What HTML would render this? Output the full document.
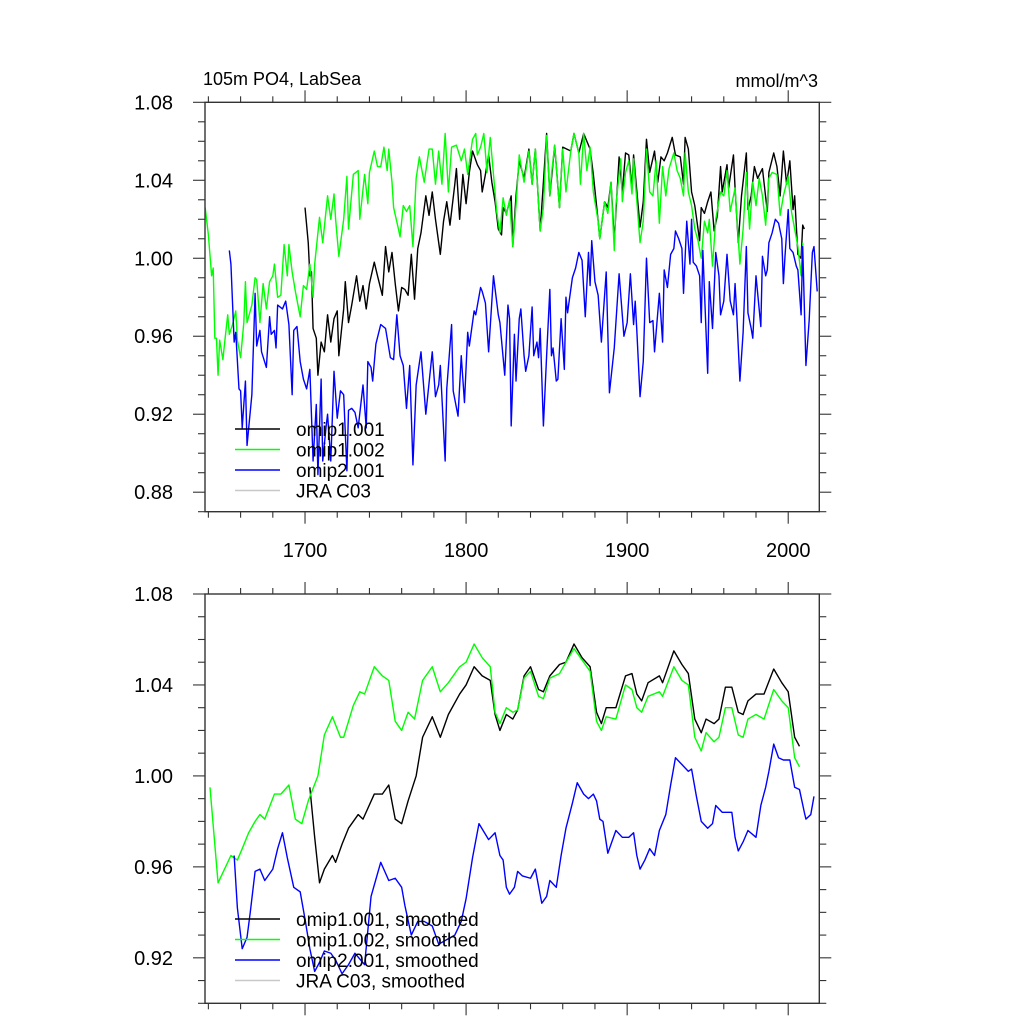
<!DOCTYPE html>
<html><head><meta charset="utf-8"><style>
html,body{margin:0;padding:0;background:#fff;}
svg{display:block;font-family:"Liberation Sans",Arial,sans-serif;}
</style></head><body>
<svg id="chart" width="1024" height="1024" viewBox="0 0 1024 1024" xmlns="http://www.w3.org/2000/svg">
<text x="203" y="85" font-size="18">105m PO4, LabSea</text>
<text x="818" y="87" font-size="18" text-anchor="end">mmol/m^3</text>
</svg>
<script>
// ---- data ----
const xTickLabels = ["1700","1800","1900","2000"];
const xTickYears = [1700,1800,1900,2000];
const yTopTicks = [0.88,0.92,0.96,1.00,1.04,1.08];
const yTopLabels = ["0.88","0.92","0.96","1.00","1.04","1.08"];
const yBotTicks = [0.92,0.96,1.00,1.04,1.08];
const yBotLabels = ["0.92","0.96","1.00","1.04","1.08"];
const legendTop = ["omip1.001","omip1.002","omip2.001","JRA C03"];
const legendBot = ["omip1.001, smoothed","omip1.002, smoothed","omip2.001, smoothed","JRA C03, smoothed"];

const g1Years = [1638,1640,1642,1643,1644,1645,1646,1647,1649,1650,1652,1653,1655,1657,1658,1660,1662,1663,1664,1667,1669,1670,1672,1674,1676,1678,1680,1681,1683,1685,1687,1689,1690,1692,1694,1697,1699,1701,1703,1705,1706,1709,1711,1714,1716,1718,1719,1721,1724,1726,1727,1730,1733,1734,1737,1739,1740,1743,1745,1747,1749,1751,1752,1754,1755,1758,1759,1761,1763,1765,1767,1769,1771,1774,1777,1779,1781,1783,1785,1787,1789,1791,1794,1797,1799,1801,1804,1806,1807,1809,1811,1813,1815,1817,1819,1821,1823,1825,1827,1829,1831,1833,1836,1839,1841,1843,1846,1848,1850,1852,1853,1855,1858,1860,1862,1865,1867,1870,1871,1873,1875,1877,1879,1882,1883,1886,1888,1890,1892,1893,1896,1897,1899,1901,1903,1904,1908,1910,1912,1914,1916,1918,1920,1922,1924,1926,1929,1931,1933,1935,1936,1938,1940,1942,1944,1946,1948,1950,1951,1953,1955,1958,1960,1962,1964,1967,1970,1972,1974,1976,1978,1980,1982,1984,1986,1988,1990,1993,1995,1997,2000,2002,2004,2006,2008,2009];
const g1Vals = [1.026,1.012,0.991,0.995,0.959,0.959,0.940,0.958,0.948,0.956,0.971,0.961,0.966,0.973,0.958,0.949,0.967,0.988,0.967,0.976,0.990,0.989,0.967,0.987,0.974,0.988,0.991,0.997,0.980,0.981,1.007,0.991,1.007,0.993,0.983,0.970,0.986,0.984,0.997,0.980,0.997,1.021,1.008,1.032,1.020,1.033,1.020,1.001,1.020,1.042,1.015,1.043,1.045,1.020,1.043,1.028,1.044,1.055,1.047,1.047,1.057,1.045,1.056,1.039,1.026,1.015,1.011,1.027,1.024,1.027,1.006,1.041,1.052,1.039,1.056,1.056,1.038,1.055,1.038,1.064,1.034,1.057,1.058,1.050,1.056,1.043,1.061,1.064,1.053,1.057,1.064,1.044,1.062,1.043,1.024,1.013,1.031,1.022,1.030,1.006,1.027,1.053,1.039,1.055,1.038,1.056,1.014,1.026,1.063,1.032,1.043,1.058,1.026,1.056,1.034,1.055,1.064,1.054,1.038,1.064,1.045,1.057,1.034,1.019,1.010,1.029,1.023,1.039,1.004,1.027,1.051,1.029,1.044,1.050,1.033,1.051,1.008,1.019,1.056,1.034,1.032,1.050,1.018,1.047,1.032,1.046,1.054,1.045,1.041,1.032,1.054,1.034,1.027,1.015,1.009,1.000,1.019,1.013,1.020,0.996,1.020,1.034,1.032,1.045,1.024,1.036,0.997,1.015,1.044,1.015,1.039,1.027,1.041,1.032,1.017,1.041,1.044,1.043,1.022,1.032,1.042,1.024,1.015,1.006,0.991,1.008];

const k1Years = [1700,1702,1703,1704,1705,1707,1708,1710,1712,1714,1716,1718,1720,1721,1724,1725,1727,1729,1732,1734,1736,1738,1740,1743,1745,1748,1750,1752,1754,1756,1758,1760,1762,1764,1766,1768,1770,1772,1775,1777,1779,1781,1784,1786,1788,1790,1793,1794,1796,1798,1800,1802,1804,1807,1809,1810,1812,1814,1816,1818,1820,1822,1823,1825,1828,1829,1831,1833,1836,1839,1841,1843,1846,1850,1852,1855,1858,1860,1865,1867,1870,1873,1877,1879,1882,1883,1886,1888,1890,1892,1895,1897,1899,1901,1903,1904,1908,1910,1912,1914,1917,1919,1921,1923,1925,1928,1930,1933,1935,1936,1938,1940,1942,1945,1946,1948,1950,1952,1954,1956,1958,1959,1962,1963,1966,1967,1969,1971,1974,1975,1977,1979,1981,1984,1987,1988,1991,1993,1995,1997,1999,2001,2003,2004,2006,2008,2009,2010];
const k1Vals = [1.026,1.008,0.991,0.993,0.964,0.959,0.940,0.957,0.952,0.971,0.957,0.969,0.973,0.950,0.974,0.988,0.967,0.976,0.991,0.978,0.986,0.974,0.987,0.998,0.991,0.981,1.006,0.993,1.003,0.987,0.973,0.985,0.984,0.981,1.002,0.979,1.005,1.013,1.032,1.022,1.034,1.020,1.002,1.019,1.029,1.017,1.038,1.046,1.020,1.043,1.028,1.044,1.055,1.048,1.045,1.034,1.043,1.053,1.039,1.029,1.015,1.012,1.026,1.023,1.032,1.006,1.032,1.050,1.041,1.056,1.038,1.056,1.014,1.064,1.032,1.058,1.026,1.057,1.055,1.064,1.054,1.064,1.056,1.043,1.019,1.010,1.029,1.026,1.039,1.009,1.052,1.034,1.054,1.053,1.036,1.053,1.016,1.029,1.061,1.044,1.055,1.039,1.052,1.050,1.054,1.062,1.053,1.052,1.038,1.062,1.056,1.034,1.027,1.009,1.026,1.023,1.029,1.034,1.014,1.022,1.047,1.034,1.048,1.036,1.053,1.036,1.008,1.032,1.054,1.025,1.032,1.047,1.041,1.046,1.024,1.044,1.054,1.047,1.032,1.055,1.038,1.050,1.025,1.032,1.002,1.000,1.017,1.015];

const b1Years = [1653,1654,1656,1657,1659,1660,1661,1663,1664,1667,1669,1670,1672,1673,1676,1678,1679,1681,1682,1683,1686,1688,1690,1692,1693,1695,1697,1699,1701,1703,1705,1707,1708,1710,1711,1713,1714,1716,1718,1720,1722,1724,1726,1727,1729,1731,1733,1736,1738,1739,1741,1742,1744,1747,1750,1753,1755,1757,1759,1761,1763,1765,1767,1769,1772,1775,1777,1779,1781,1783,1784,1787,1788,1791,1792,1795,1797,1799,1801,1802,1805,1806,1809,1810,1812,1814,1816,1817,1820,1821,1824,1826,1827,1828,1830,1831,1833,1834,1836,1837,1839,1841,1842,1844,1845,1846,1848,1850,1852,1853,1854,1856,1857,1859,1861,1862,1863,1864,1866,1868,1870,1872,1874,1876,1877,1878,1880,1882,1884,1887,1889,1892,1895,1898,1900,1902,1904,1905,1906,1908,1910,1912,1914,1916,1917,1920,1922,1923,1925,1927,1929,1930,1932,1934,1935,1937,1939,1940,1941,1943,1945,1946,1947,1950,1951,1953,1955,1957,1958,1960,1962,1964,1966,1967,1968,1970,1972,1974,1975,1977,1978,1980,1983,1984,1986,1987,1988,1990,1992,1994,1996,1997,1998,2000,2001,2003,2005,2006,2008,2009,2011,2013,2015,2016,2018];
const b1Vals = [1.004,0.997,0.957,0.962,0.933,0.932,0.913,0.937,0.904,0.930,0.982,0.955,0.963,0.952,0.944,0.970,0.961,0.963,0.954,0.976,0.974,0.978,0.966,0.930,0.963,0.965,0.947,0.938,0.933,0.943,0.896,0.925,0.889,0.938,0.896,0.913,0.920,0.896,0.942,0.918,0.932,0.930,0.891,0.922,0.923,0.921,0.913,0.935,0.913,0.947,0.944,0.937,0.956,0.966,0.964,0.949,0.948,0.971,0.950,0.945,0.923,0.945,0.894,0.935,0.952,0.920,0.936,0.952,0.929,0.935,0.945,0.896,0.933,0.966,0.932,0.919,0.950,0.926,0.962,0.955,0.973,0.971,0.985,0.983,0.977,0.952,0.978,0.991,0.971,0.967,0.940,0.976,0.969,0.914,0.961,0.937,0.969,0.974,0.950,0.942,0.950,0.975,0.950,0.957,0.949,0.964,0.914,0.950,0.984,0.950,0.954,0.937,0.938,0.969,0.943,0.980,0.972,0.978,0.990,0.995,1.003,0.999,0.970,1.003,0.986,1.009,0.988,0.981,0.957,0.993,0.931,0.954,0.992,0.960,0.967,0.992,0.966,0.978,0.963,0.929,0.947,1.000,0.967,0.968,0.952,0.982,0.957,0.994,0.985,1.002,1.005,1.014,1.010,1.005,0.982,1.019,0.997,1.020,0.998,0.996,0.991,0.967,1.004,0.941,0.988,0.964,1.003,0.991,0.971,0.978,1.002,0.978,0.971,0.987,0.972,0.937,0.962,1.006,0.972,0.964,0.959,0.991,0.965,1.001,0.991,0.994,1.008,1.013,1.020,1.018,1.010,0.987,1.001,1.025,1.005,1.003,0.996,0.994,0.971,1.006,0.945,0.968,1.003,1.006,0.983];

const g2Years = [1641,1646,1650,1654,1658,1661,1665,1669,1672,1675,1681,1685,1690,1694,1698,1702,1708,1712,1717,1722,1724,1730,1734,1737,1743,1748,1752,1756,1760,1764,1768,1773,1779,1784,1789,1796,1800,1805,1810,1815,1818,1821,1825,1829,1832,1836,1840,1845,1848,1852,1858,1862,1867,1872,1877,1881,1884,1887,1893,1899,1903,1906,1909,1913,1920,1922,1929,1934,1938,1942,1946,1949,1954,1957,1961,1965,1969,1972,1975,1980,1985,1991,1996,2000,2004,2007];
const g2Vals = [0.995,0.953,0.959,0.965,0.963,0.968,0.975,0.980,0.983,0.981,0.992,0.992,0.996,0.981,0.979,0.989,1.000,1.018,1.026,1.017,1.017,1.031,1.037,1.036,1.048,1.044,1.042,1.024,1.020,1.028,1.025,1.042,1.048,1.037,1.041,1.048,1.050,1.058,1.052,1.048,1.028,1.023,1.030,1.028,1.029,1.043,1.046,1.035,1.034,1.043,1.045,1.050,1.056,1.051,1.046,1.024,1.020,1.026,1.025,1.040,1.038,1.030,1.028,1.035,1.037,1.035,1.048,1.042,1.040,1.017,1.011,1.019,1.015,1.017,1.030,1.030,1.018,1.017,1.025,1.027,1.025,1.038,1.033,1.030,1.008,1.004];

const k2Years = [1703,1706,1709,1712,1717,1719,1723,1727,1733,1736,1743,1748,1752,1756,1760,1764,1769,1773,1779,1784,1789,1796,1800,1805,1810,1815,1818,1821,1825,1829,1832,1836,1840,1845,1848,1852,1858,1862,1867,1872,1877,1881,1884,1887,1893,1899,1903,1906,1909,1913,1920,1922,1929,1934,1938,1942,1946,1949,1954,1957,1961,1965,1969,1972,1975,1980,1985,1991,1996,2000,2004,2007];
const k2Vals = [0.995,0.973,0.953,0.959,0.965,0.962,0.970,0.977,0.983,0.981,0.992,0.992,0.996,0.981,0.979,0.989,1.000,1.017,1.026,1.017,1.027,1.036,1.040,1.048,1.044,1.042,1.027,1.020,1.027,1.025,1.029,1.044,1.048,1.038,1.037,1.044,1.049,1.050,1.058,1.052,1.048,1.028,1.023,1.030,1.030,1.044,1.045,1.036,1.033,1.041,1.044,1.041,1.055,1.049,1.045,1.025,1.019,1.025,1.023,1.025,1.039,1.039,1.028,1.027,1.033,1.036,1.036,1.047,1.041,1.037,1.017,1.013];

const b2Years = [1656,1658,1661,1664,1666,1669,1672,1675,1680,1683,1686,1689,1693,1697,1700,1703,1706,1709,1712,1716,1719,1723,1727,1731,1737,1741,1747,1752,1756,1760,1762,1766,1770,1774,1779,1783,1788,1793,1797,1800,1804,1808,1814,1818,1821,1823,1825,1827,1830,1832,1835,1840,1843,1847,1850,1852,1856,1859,1862,1866,1869,1873,1876,1879,1881,1883,1885,1888,1893,1897,1901,1904,1906,1908,1911,1914,1917,1920,1924,1927,1930,1934,1938,1940,1943,1946,1950,1953,1955,1959,1963,1965,1967,1969,1972,1975,1980,1983,1986,1988,1991,1994,1997,2001,2004,2007,2010,2011,2014,2016];
const b2Vals = [0.965,0.942,0.924,0.929,0.940,0.958,0.959,0.954,0.959,0.968,0.975,0.964,0.951,0.949,0.937,0.924,0.914,0.918,0.923,0.922,0.919,0.913,0.917,0.922,0.917,0.947,0.962,0.954,0.955,0.951,0.943,0.930,0.936,0.936,0.934,0.926,0.928,0.930,0.936,0.946,0.964,0.979,0.972,0.975,0.965,0.963,0.951,0.948,0.951,0.958,0.956,0.955,0.959,0.944,0.947,0.954,0.951,0.965,0.977,0.988,0.997,0.992,0.990,0.992,0.989,0.981,0.980,0.966,0.976,0.973,0.973,0.975,0.965,0.959,0.963,0.968,0.965,0.976,0.983,0.996,1.008,1.005,1.002,1.003,0.991,0.980,0.977,0.979,0.987,0.984,0.984,0.984,0.973,0.967,0.971,0.976,0.973,0.987,0.995,1.002,1.014,1.008,1.007,1.007,0.995,0.994,0.984,0.981,0.983,0.991];

// ---- layout ----
const NS = "http://www.w3.org/2000/svg";
const svg = document.getElementById('chart');
const X0 = 205, X1 = 819.3, YR0 = 1637.9, YR1 = 2019.3;
const xs = yr => X0 + (yr - YR0) / (YR1 - YR0) * (X1 - X0);
const panels = [
  {top:102.3, bot:511.7, vmin:0.87, vmax:1.08, ticks:yTopTicks, labels:yTopLabels, xlabels:true,
   series:[[k1Years,k1Vals,'#000000','omip1-001-line'],[g1Years,g1Vals,'#00ff00','omip1-002-line'],[b1Years,b1Vals,'#0000ff','omip2-001-line']],
   legend:legendTop, legY:429, name:'top-panel'},
  {top:594, bot:1003.3, vmin:0.90, vmax:1.08, ticks:yBotTicks, labels:yBotLabels, xlabels:false,
   series:[[k2Years,k2Vals,'#000000','omip1-001-smoothed-line'],[g2Years,g2Vals,'#00ff00','omip1-002-smoothed-line'],[b2Years,b2Vals,'#0000ff','omip2-001-smoothed-line']],
   legend:legendBot, legY:919, name:'bottom-panel'}
];
const legColors = ['#000000','#00ff00','#0000ff','#c8c8c8'];

function mk(tag, attrs, parent){ const e=document.createElementNS(NS,tag); for(const k in attrs) e.setAttribute(k,attrs[k]); (parent||svg).appendChild(e); return e; }

panels.forEach(p=>{
  const g = mk('g',{});
  
  
  const ys = v => p.bot - (v - p.vmin)/(p.vmax - p.vmin)*(p.bot - p.top);
  // series
  p.series.forEach(s=>{
    const [yrs, vals, col, nm] = s;
    let d='';
    for(let i=0;i<yrs.length;i++){ d += (i?'L':'M') + xs(yrs[i]).toFixed(2)+','+ys(vals[i]).toFixed(2); }
    const path = mk('path',{d:d,fill:'none',stroke:col,'stroke-width':1.4,'stroke-linejoin':'round'},g);
    
    
  });
  // frame
  const fr = mk('rect',{x:X0,y:p.top,width:X1-X0,height:p.bot-p.top,fill:'none',stroke:'#333','stroke-width':1.4},g);
  
  
  // x ticks
  for(let yr=1640; yr<=2019; yr+=20){
    const major = yr%100===0; const L = major?12:6; const x=xs(yr);
    mk('line',{x1:x,x2:x,y1:p.bot,y2:p.bot+L,stroke:'#333','stroke-width':1.1},g);
    mk('line',{x1:x,x2:x,y1:p.top,y2:p.top-L,stroke:'#333','stroke-width':1.1},g);
  }
  // y ticks
  for(let v=Math.round(p.vmin*100); v<=Math.round(p.vmax*100); v++){
    const major = (v%4===0); const L = major?12:7; const y=ys(v/100);
    mk('line',{x1:X0,x2:X0-L,y1:y,y2:y,stroke:'#333','stroke-width':1.1},g);
    mk('line',{x1:X1,x2:X1+L,y1:y,y2:y,stroke:'#333','stroke-width':1.1},g);
  }
  p.ticks.forEach((v,i)=>{
    const t = mk('text',{x:173,y:ys(v)+7,'font-size':20,'text-anchor':'end',fill:'#000'},g);
    t.textContent = p.labels[i];
    
    
  });
  if(p.xlabels){
    xTickYears.forEach((yr,i)=>{
      const t = mk('text',{x:xs(yr),y:557,'font-size':20,'text-anchor':'middle',fill:'#000'},g);
      t.textContent = xTickLabels[i];
      
      
    });
  }
  // legend
  p.legend.forEach((lab,i)=>{
    const y = p.legY + i*20.5;
    const ln = mk('line',{x1:235,x2:280,y1:y,y2:y,stroke:legColors[i],'stroke-width':1.5},g);
    
    
    const t = mk('text',{x:296,y:y+7,'font-size':19,fill:'#000'},g);
    t.textContent = lab;
    
    
  });
});
</script>
</body></html>
